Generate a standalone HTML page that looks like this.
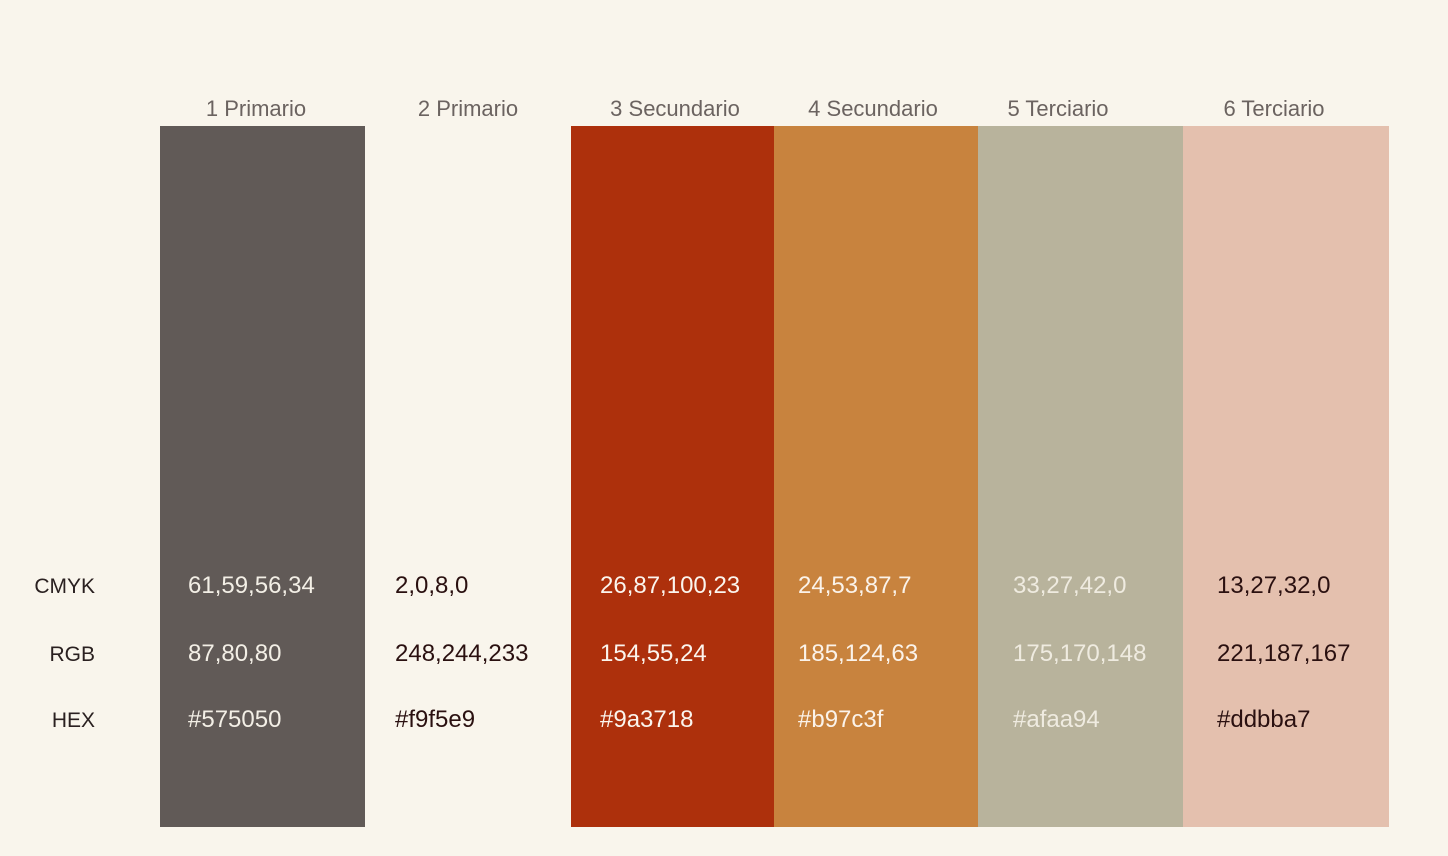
<!DOCTYPE html>
<html><head><meta charset="utf-8"><style>
body{margin:0;background:#f9f5ec;}
svg{display:block;font-family:"Liberation Sans",sans-serif;}
</style></head><body>
<svg id="chart" width="1448" height="856">
<rect width="1448" height="856" fill="#f9f5ec"/>
</svg>
<script>
const names=["1 Primario","2 Primario","3 Secundario","4 Secundario","5 Terciario","6 Terciario"];
const swatchColors=["#615a57","#f9f5ec","#ad300c","#c8833e","#b8b39c","#e4c0ae"];
const cmykValues=["61,59,56,34","2,0,8,0","26,87,100,23","24,53,87,7","33,27,42,0","13,27,32,0"];
const rgbValues=["87,80,80","248,244,233","154,55,24","185,124,63","175,170,148","221,187,167"];
const hexValues=["#575050","#f9f5e9","#9a3718","#b97c3f","#afaa94","#ddbba7"];
const textColors=["#f3efe6","#2a1010","#fbf5ee","#fbf3ea","#efebe0","#2a1010"];
const rowLabels=["CMYK","RGB","HEX"];

const svg=document.getElementById('chart');
const NS="http://www.w3.org/2000/svg";
const colEdges=[160,365,571,774,978,1183,1389];
const headerX=[256,468,675,873,1058,1274];
const valueX=[188,395,600,798,1013,1217];
const rowY=[593,661,727];
function mk(t,a){const e=document.createElementNS(NS,t);for(const k in a)e.setAttribute(k,a[k]);svg.appendChild(e);return e;}
rowLabels.forEach((l,r)=>{
  const t=mk('text',{x:95,y:rowY[r]-0,'text-anchor':'end','font-size':21,fill:'#2a2020'});
  t.textContent=l;
  
  
});
names.forEach((n,i)=>{
  const x0=colEdges[i],x1=colEdges[i+1];
  const r=mk('rect',{x:x0,y:126,width:x1-x0,height:701,fill:swatchColors[i]});
  
  
  const h=mk('text',{x:headerX[i],y:116,'text-anchor':'middle','font-size':22,fill:'#6b6360'});
  h.textContent=n;
  
  
  [cmykValues,rgbValues,hexValues].forEach((arr,r)=>{
    const t=mk('text',{x:valueX[i],y:rowY[r],'font-size':24,fill:textColors[i]});
    t.textContent=arr[i];
    
    
  });
});
</script>
</body></html>
